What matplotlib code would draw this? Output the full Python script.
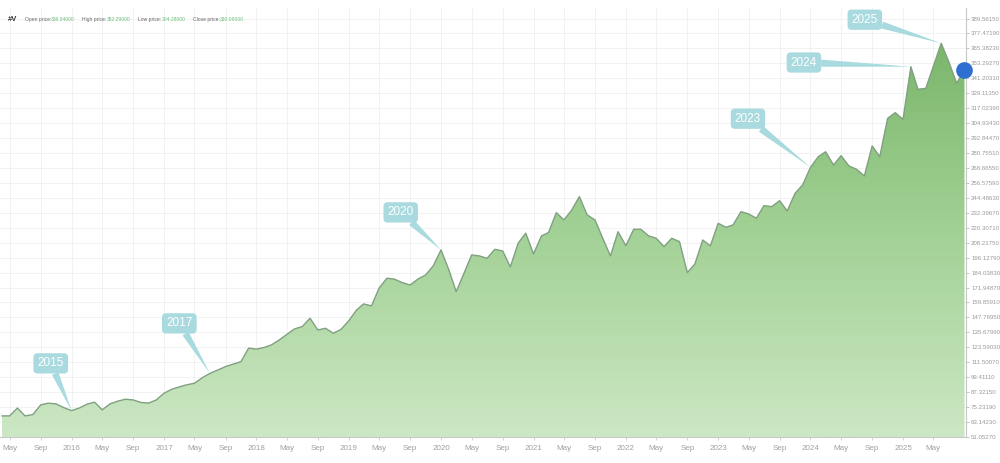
import numpy as np
import pandas as pd
import matplotlib
matplotlib.use("Agg")
import matplotlib.pyplot as plt
import matplotlib.dates as mdates
from matplotlib.colors import LinearSegmentedColormap

plt.rcParams["font.family"] = ["Liberation Sans", "DejaVu Sans"]

# monthly closes, Apr 2015 .. Sep 2025
start_month = "2015-04-01"
close = [
    68.1, 68.1, 74.5, 68.1, 69.2, 77.0, 78.4, 77.8, 74.8,
    72.4, 74.5, 77.5, 79.2, 73.0, 77.8, 80.0, 81.6, 81.0, 79.0, 78.5, 81.0,
    86.5, 89.7, 91.5, 93.3, 94.5, 99.0, 102.5, 105.2, 108.0, 110.0, 112.0, 122.9,
    122.1, 123.5, 125.5, 129.5, 134.0, 138.5, 140.3, 147.1, 137.6, 139.0, 135.0, 138.0,
    145.0, 153.8, 158.7, 157.1, 171.4, 179.5, 178.7, 175.9, 174.0, 178.7, 182.1, 189.4,
    202.4, 186.2, 168.6, 183.5, 198.3, 197.5, 195.6, 202.9, 201.5, 188.6, 207.8, 215.9,
    199.1, 213.7, 216.4, 232.5, 226.6, 234.7, 245.5, 230.7, 226.6, 212.0, 197.5, 217.1,
    205.8, 219.1, 219.1, 213.7, 211.8, 205.0, 211.8, 209.1, 184.0, 191.0, 210.4, 205.6,
    223.9, 220.7, 222.6, 233.3, 231.5, 228.0, 238.2, 237.4, 242.2, 233.9, 248.2, 254.9,
    269.2, 277.8, 281.8, 271.1, 278.6, 270.3, 267.6, 262.2, 286.5, 277.8, 308.8, 313.4,
    308.0, 350.6, 332.3, 333.1, 351.0, 369.5, 354.6, 337.2, 348.0,
]

callout_labels = ["2015", "2017", "2020", "2023", "2024", "2025"]
callout_months = ["2016-01-01", "2017-07-01", "2020-01-01", "2024-01-01", "2025-02-01", "2025-06-01"]
callout_offsets = [(-15, 34), (-22, 36), (-29, 27), (-45, 35), (-77, 3), (-55, 17)]

header_names = ["Open price:", "High price:", "Low price:", "Close price:"]
header_values = ["336.34000", "352.29000", "304.28000", "330.09000"]

ytick_first = 51.0527
ytick_step = 12.0896
ytick_count = 29

dates = pd.date_range(start_month, periods=len(close), freq="MS")
xnum = mdates.date2num(dates)
y = np.array(close)

fig = plt.figure(figsize=(10, 4.63), dpi=100)
ax = fig.add_axes([0.0, 0.0562, 0.966, 0.9265])

ymin = ytick_first
ymax = ytick_first + ytick_step * (ytick_count - 1) + 8.5
x0 = xnum[0] - 8
x1 = xnum[-1] + 6
ax.set_xlim(x0, x1)
ax.set_ylim(ymin, ymax)

# gradient area fill clipped to the series
poly = ax.fill_between(xnum, y, ymin, facecolor="none", edgecolor="none")
cmap = LinearSegmentedColormap.from_list("grn", ["#cce7c4", "#a0d093", "#74b164"])
grad = np.linspace(0, 1, 256).reshape(-1, 1)
im = ax.imshow(grad, extent=[x0, x1, ymin, ymax], origin="lower", cmap=cmap,
               aspect="auto", zorder=1)
im.set_clip_path(poly.get_paths()[0], transform=ax.transData)
ax.plot(xnum, y, color="#80a081", lw=1.0, zorder=3)
ax.plot(xnum[-1], y[-1], "o", color="#2f6fd1", ms=11, zorder=6, clip_on=False)

# callouts
for lab, m, off in zip(callout_labels, callout_months, callout_offsets):
    i = list(dates).index(pd.Timestamp(m))
    ax.annotate(lab, xy=(xnum[i], y[i]), xytext=off, textcoords="offset points",
                ha="center", va="center", color="white", fontsize=8.5,
                bbox=dict(boxstyle="round,pad=0.35", fc="#a8dadf", ec="none"),
                arrowprops=dict(arrowstyle="wedge,tail_width=0.6", fc="#a8dadf",
                                ec="none", shrinkA=0, shrinkB=0),
                zorder=7)

# axes styling
yt = ytick_first + ytick_step * np.arange(ytick_count)
ax.set_yticks(yt)
ax.set_yticklabels([f"{v:.5f}" for v in yt])
ax.yaxis.tick_right()
ax.tick_params(axis="y", labelsize=4.4, colors="#bbbbbb", length=2.5, width=0.6,
               pad=1.2, labelcolor="#9a9a9a")

xt = pd.date_range("2015-05-01", "2025-05-01", freq="4MS")
ax.set_xticks(mdates.date2num(xt))
ax.set_xticklabels([str(d.year) if d.month == 1 else d.strftime("%b") for d in xt])
ax.tick_params(axis="x", labelsize=5.8, colors="#cccccc", length=2, width=0.6,
               pad=4, labelcolor="#a0a0a0")

ax.grid(True, color="#f0f0f0", lw=0.6, zorder=0)
ax.set_axisbelow(True)
for s in ["top", "left"]:
    ax.spines[s].set_visible(False)
ax.spines["right"].set_color("#c8c8c8")
ax.spines["bottom"].set_color("#c8c8c8")
ax.spines["right"].set_linewidth(0.8)
ax.spines["bottom"].set_linewidth(0.8)

# header line
fig.text(0.008, 0.957, "#V", fontsize=5.5, fontweight="bold", color="#333333", va="center")
name_x = [0.025, 0.082, 0.138, 0.193]
value_x = [0.051, 0.107, 0.162, 0.220]
for nx, vx, name, val in zip(name_x, value_x, header_names, header_values):
    fig.text(nx, 0.957, name, fontsize=3.6, color="#666666", va="center")
    fig.text(vx, 0.957, val, fontsize=3.6, color="#6cc07a", va="center")

fig.savefig("out.png", dpi=100)
